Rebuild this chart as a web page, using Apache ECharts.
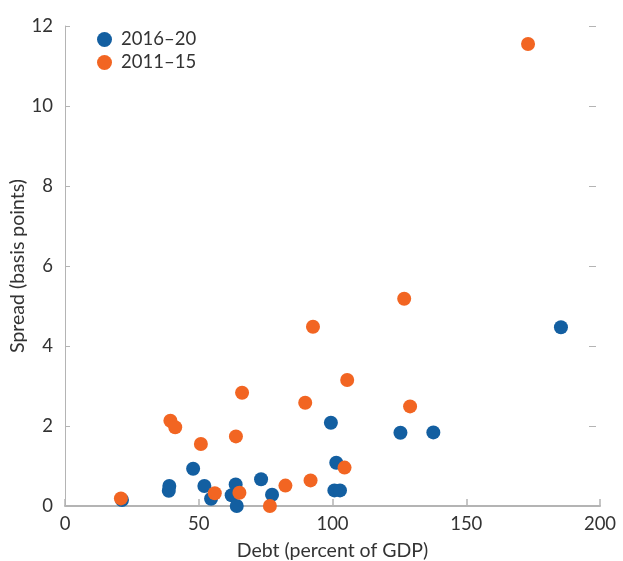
<!DOCTYPE html>
<html><head><meta charset="utf-8">
<script src="https://cdn.jsdelivr.net/npm/echarts@6/dist/echarts.min.js"></script>
<style>html,body{margin:0;padding:0;background:#fff}#c{width:623px;height:561px}</style>
</head><body><div id="c"></div>
<script>
const seriesNames = ['2016–20', '2011–15'];
const debt2016 = [21.3, 39.0, 38.8, 47.9, 52.1, 54.6, 62.3, 63.8, 64.2, 73.3, 77.4, 99.4, 101.4, 100.7, 102.8, 125.4, 137.7, 185.4];
const spread2016 = [0.15, 0.50, 0.38, 0.93, 0.50, 0.18, 0.27, 0.54, 0.00, 0.67, 0.28, 2.08, 1.08, 0.39, 0.39, 1.83, 1.84, 4.47];
const debt2011 = [20.9, 39.4, 41.2, 50.8, 56.0, 63.9, 65.2, 66.2, 76.6, 82.4, 89.8, 91.8, 92.7, 104.5, 105.5, 126.8, 129.0, 173.1];
const spread2011 = [0.19, 2.13, 1.97, 1.55, 0.32, 1.74, 0.33, 2.83, 0.00, 0.51, 2.58, 0.64, 4.48, 0.96, 3.15, 5.18, 2.49, 11.55];
const xTicks = [0, 50, 100, 150, 200];
const yTicks = [0, 2, 4, 6, 8, 10, 12];

const font = 'Lato, "Open Sans", sans-serif';
const txt = '#333';
const chart = echarts.init(document.getElementById('c'));
const pairs = (xs, ys) => xs.map((x, i) => [x, ys[i]]);
chart.setOption({
  animation: false,
  textStyle: {fontFamily: font},
  grid: {left: 65, right: 23, top: 26, bottom: 55, containLabel: false, outerBoundsMode: 'none'},
  legend: {
    left: 92, top: 25, orient: 'vertical', itemGap: 4, itemWidth: 15, itemHeight: 15,
    icon: 'circle',
    textStyle: {fontSize: 18.5, color: txt, fontFamily: font, padding: [0, 0, 0, 4]},
    data: seriesNames
  },
  xAxis: {
    type: 'value', min: xTicks[0], max: xTicks[xTicks.length - 1], interval: 50,
    name: 'Debt (percent of GDP)', nameLocation: 'middle', nameGap: 35, nameMoveOverlap: false,
    nameTextStyle: {fontSize: 19.5, color: txt, fontFamily: font},
    axisLine: {show: true, lineStyle: {color: '#b4b4b4', width: 2}},
    axisTick: {show: true, inside: true, length: 7, lineStyle: {color: '#b4b4b4', width: 1.5}},
    axisLabel: {fontSize: 18.5, color: txt, margin: 9, fontFamily: font},
    splitLine: {show: false}
  },
  yAxis: [{
    type: 'value', min: yTicks[0], max: yTicks[yTicks.length - 1], interval: 2,
    name: 'Spread (basis points)', nameLocation: 'middle', nameGap: 37, nameRotate: 90, nameMoveOverlap: false,
    nameTextStyle: {fontSize: 19.5, color: txt, fontFamily: font},
    axisLine: {show: true, lineStyle: {color: '#b4b4b4', width: 1}},
    axisTick: {show: true, inside: true, length: 5, lineStyle: {color: '#b4b4b4'}},
    axisLabel: {fontSize: 18.5, color: txt, margin: 12, fontFamily: font},
    splitLine: {show: false}
  }, {
    type: 'value', position: 'right', offset: -4, min: yTicks[0], max: yTicks[yTicks.length - 1], interval: 2,
    axisLine: {show: false},
    axisTick: {show: true, inside: true, length: 7, lineStyle: {color: '#b4b4b4'}},
    axisLabel: {show: false},
    splitLine: {show: false}
  }],
  series: [{
    name: seriesNames[0], type: 'scatter', symbolSize: 14,
    itemStyle: {color: '#135fa1', opacity: 1},
    data: pairs(debt2016, spread2016), z: 2
  }, {
    name: seriesNames[1], type: 'scatter', symbolSize: 14,
    itemStyle: {color: '#f26522', opacity: 1},
    data: pairs(debt2011, spread2011), z: 3
  }]
});
</script></body></html>
